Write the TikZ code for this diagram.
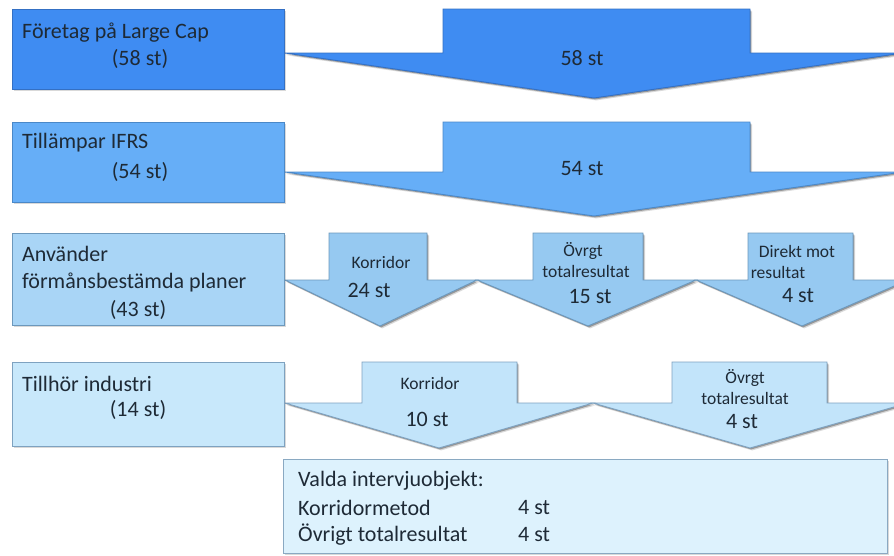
\documentclass[tikz,border=0pt]{standalone}
\usepackage{fontspec}
\setmainfont{Carlito}
\usetikzlibrary{shadows}
\definecolor{txt}{HTML}{1E2A36}
\definecolor{fA}{HTML}{3F8CF2}\definecolor{bA}{HTML}{3470C4}
\definecolor{fB}{HTML}{66AEF7}\definecolor{bB}{HTML}{4A88C8}
\definecolor{fC}{HTML}{A9D5F6}\definecolor{aC}{HTML}{96C9F1}\definecolor{bC}{HTML}{6C98BC}
\definecolor{fD}{HTML}{C8E8FB}\definecolor{aD}{HTML}{C2E4FA}\definecolor{bD}{HTML}{7EA2C0}
\definecolor{fE}{HTML}{DDF2FD}\definecolor{bE}{HTML}{8AA9C2}
\tikzset{
  shp/.style={line width=0.9pt, line join=miter,
    drop shadow={shadow xshift=2.2pt, shadow yshift=-2.4pt, opacity=0.15, fill=black},
    drop shadow={shadow xshift=1.2pt, shadow yshift=-1.4pt, opacity=0.3, fill=black}},
  big/.style={text=txt, font=\fontsize{22}{26}\selectfont, inner sep=0pt},
  small/.style={text=txt, font=\fontsize{17.5}{20}\selectfont, inner sep=0pt, align=center},
  lbl/.style={big, anchor=west},
}
\begin{document}
\begin{tikzpicture}[x=1pt,y=-1pt]
\useasboundingbox (0,0) rectangle (894,555);
\clip (0,0) rectangle (894,555);
% Row 1
\draw[shp, fill=fA, draw=bA] (443,9) -- (750,9) -- (750,53) -- (903,53) -- (594,98) -- (285,53) -- (443,53) -- cycle;
\draw[shp, fill=fA, draw=bA] (12,9) rectangle (284,89);
\node[lbl] (t1) at (22,33) {Företag på Large Cap};
\node[big] (n1) at (140,59) {(58 st)};
\node[big] (a1) at (582,58) {58 st};
% Row 2
\draw[shp, fill=fB, draw=bB] (443,122) -- (750,122) -- (750,172) -- (903,172) -- (594,216) -- (285,172) -- (443,172) -- cycle;
\draw[shp, fill=fB, draw=bB] (12,122) rectangle (284,202);
\node[lbl] (t2) at (22,143) {Tillämpar IFRS};
\node[big] (n2) at (140,172) {(54 st)};
\node[big] (a2) at (582,169) {54 st};
% Row 3
\draw[shp, fill=aC, draw=bC] (329,233) -- (427,233) -- (427,280) -- (477,280) -- (380,326) -- (285,280) -- (329,280) -- cycle;
\draw[shp, fill=aC, draw=bC] (533,233) -- (643,233) -- (643,280) -- (696,280) -- (588,326) -- (477,280) -- (533,280) -- cycle;
\draw[shp, fill=aC, draw=bC] (748,233) -- (853,233) -- (853,280) -- (908,280) -- (802,326) -- (696,280) -- (748,280) -- cycle;
\draw[shp, fill=fC, draw=bC] (12,233) rectangle (284,325);
\node[lbl] (t3a) at (22,254) {Använder};
\node[lbl] (t3b) at (22,282) {förmånsbestämda planer};
\node[big] (n3) at (138,310) {(43 st)};
\node[small] (k3a) at (381,262) {Korridor};
\node[big] (v3a) at (369,290) {24 st};
\node[small] (k3b) at (583,251) {Övrgt};
\node[small] (k3c) at (586,271) {totalresultat};
\node[big] (v3b) at (590,296) {15 st};
\node[small] (k3d) at (797,251) {Direkt mot};
\node[small] (k3e) at (778,272) {resultat};
\node[big] (v3c) at (798,296) {4 st};
% Row 4
\draw[shp, fill=aD, draw=bD] (362,362) -- (517,362) -- (517,403) -- (593,403) -- (439,448) -- (285,403) -- (362,403) -- cycle;
\draw[shp, fill=aD, draw=bD] (672,362) -- (827,362) -- (827,403) -- (908,403) -- (750,448) -- (593,403) -- (672,403) -- cycle;
\draw[shp, fill=fD, draw=bD] (12,362) rectangle (284,446);
\node[lbl] (t4) at (22,384) {Tillhör industri};
\node[big] (n4) at (138,410) {(14 st)};
\node[small] (k4a) at (430,383) {Korridor};
\node[big] (v4a) at (427,419) {10 st};
\node[small] (k4b) at (745,378) {Övrgt};
\node[small] (k4c) at (745,398) {totalresultat};
\node[big] (v4b) at (742,422) {4 st};
% Bottom box
\draw[shp, fill=fE, draw=bE] (283,459) rectangle (887,553);
\node[lbl] (s0) at (298,481) {Valda intervjuobjekt:};
\node[lbl] (s1) at (298,508) {Korridormetod};
\node[lbl] (s1v) at (518,508) {4 st};
\node[lbl] (s2) at (298,535) {Övrigt totalresultat};
\node[lbl] (s2v) at (518,535) {4 st};
\end{tikzpicture}
\end{document}
